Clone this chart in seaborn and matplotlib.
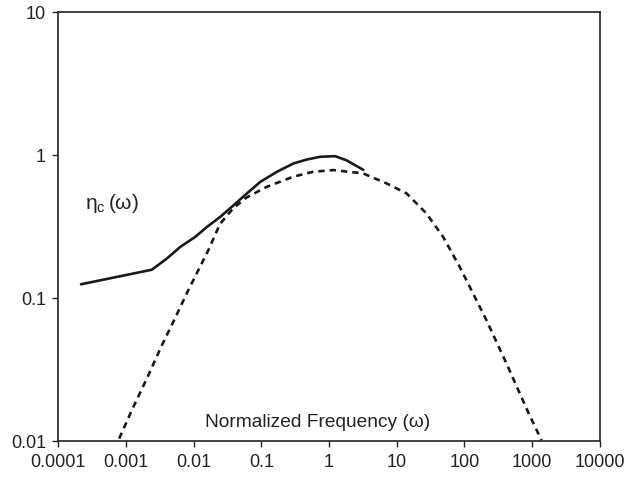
import matplotlib
matplotlib.use("Agg")
import matplotlib.pyplot as plt
import matplotlib.ticker as mticker
import numpy as np
import pandas as pd
import seaborn as sns

sns.set_style("ticks")
plt.rcParams["font.family"] = ["Liberation Sans", "DejaVu Sans"]

# solid curve: eta_c(omega)
solid_w = [0.000216, 0.0024, 0.0040, 0.0063, 0.0105, 0.0157, 0.0246, 0.0387,
           0.061, 0.096, 0.169, 0.297, 0.469, 0.74, 1.23, 1.82, 3.2]
solid_eta = [0.125, 0.158, 0.189, 0.228, 0.268, 0.315, 0.37, 0.446,
             0.54, 0.65, 0.765, 0.875, 0.933, 0.975, 0.985, 0.92, 0.79]

# dashed curve
dash_w = [0.00079, 0.00128, 0.00206, 0.00324, 0.00527, 0.0083, 0.0164, 0.0244,
          0.0383, 0.060, 0.119, 0.295, 0.58, 1.15, 3.19, 7.07, 14, 27.5, 48.5,
          85.5, 134, 212, 419, 826, 1377]
dash_eta = [0.0104, 0.0173, 0.0278, 0.0448, 0.072, 0.1135, 0.216, 0.330,
            0.425, 0.505, 0.60, 0.707, 0.766, 0.787, 0.746, 0.635, 0.54, 0.391, 0.268,
            0.165, 0.108, 0.070, 0.0348, 0.0169, 0.0101]

xticks = [0.0001, 0.001, 0.01, 0.1, 1, 10, 100, 1000, 10000]
xlabels = ["0.0001", "0.001", "0.01", "0.1", "1", "10", "100", "1000", "10000"]
yticks = [0.01, 0.1, 1, 10]
ylabels = ["0.01", "0.1", "1", "10"]

df_solid = pd.DataFrame({"w": solid_w, "eta": solid_eta})
df_dash = pd.DataFrame({"w": dash_w, "eta": dash_eta})

fig = plt.figure(figsize=(6.28, 4.79), dpi=100)
ax = fig.add_axes([0.093, 0.0793, 0.862, 0.895])

sns.lineplot(data=df_solid, x="w", y="eta", color="#1a1a1a", linewidth=1.9,
             sort=False, ax=ax)
sns.lineplot(data=df_dash, x="w", y="eta", color="#1a1a1a", linewidth=1.9,
             sort=False, ax=ax, dashes=False)
ax.lines[-1].set_dashes((2.4, 1.9))

ax.set_xscale("log")
ax.set_yscale("log")
ax.set_xlim(0.0001, 10000)
ax.set_ylim(0.01, 10)
ax.set_xticks(xticks)
ax.set_xticklabels(xlabels)
ax.set_yticks(yticks)
ax.set_yticklabels(ylabels)
ax.xaxis.set_minor_locator(mticker.NullLocator())
ax.yaxis.set_minor_locator(mticker.NullLocator())
ax.tick_params(axis="both", labelsize=13, length=4, width=1, color="#222222",
               labelcolor="#222222", pad=5)
for s in ax.spines.values():
    s.set_linewidth(1.2)
    s.set_color("#222222")

ax.set_xlabel("")
ax.set_ylabel("")

ax.text(0.00025, 0.46, r"$\mathregular{\eta_c\,(\omega)}$", fontsize=15,
        color="#222222", va="center", ha="left")
ax.text(0.478, 0.044, "Normalized Frequency (\u03c9)", fontsize=13.8,
        color="#222222", transform=ax.transAxes, ha="center", va="center")

fig.savefig("out.png", dpi=100)
